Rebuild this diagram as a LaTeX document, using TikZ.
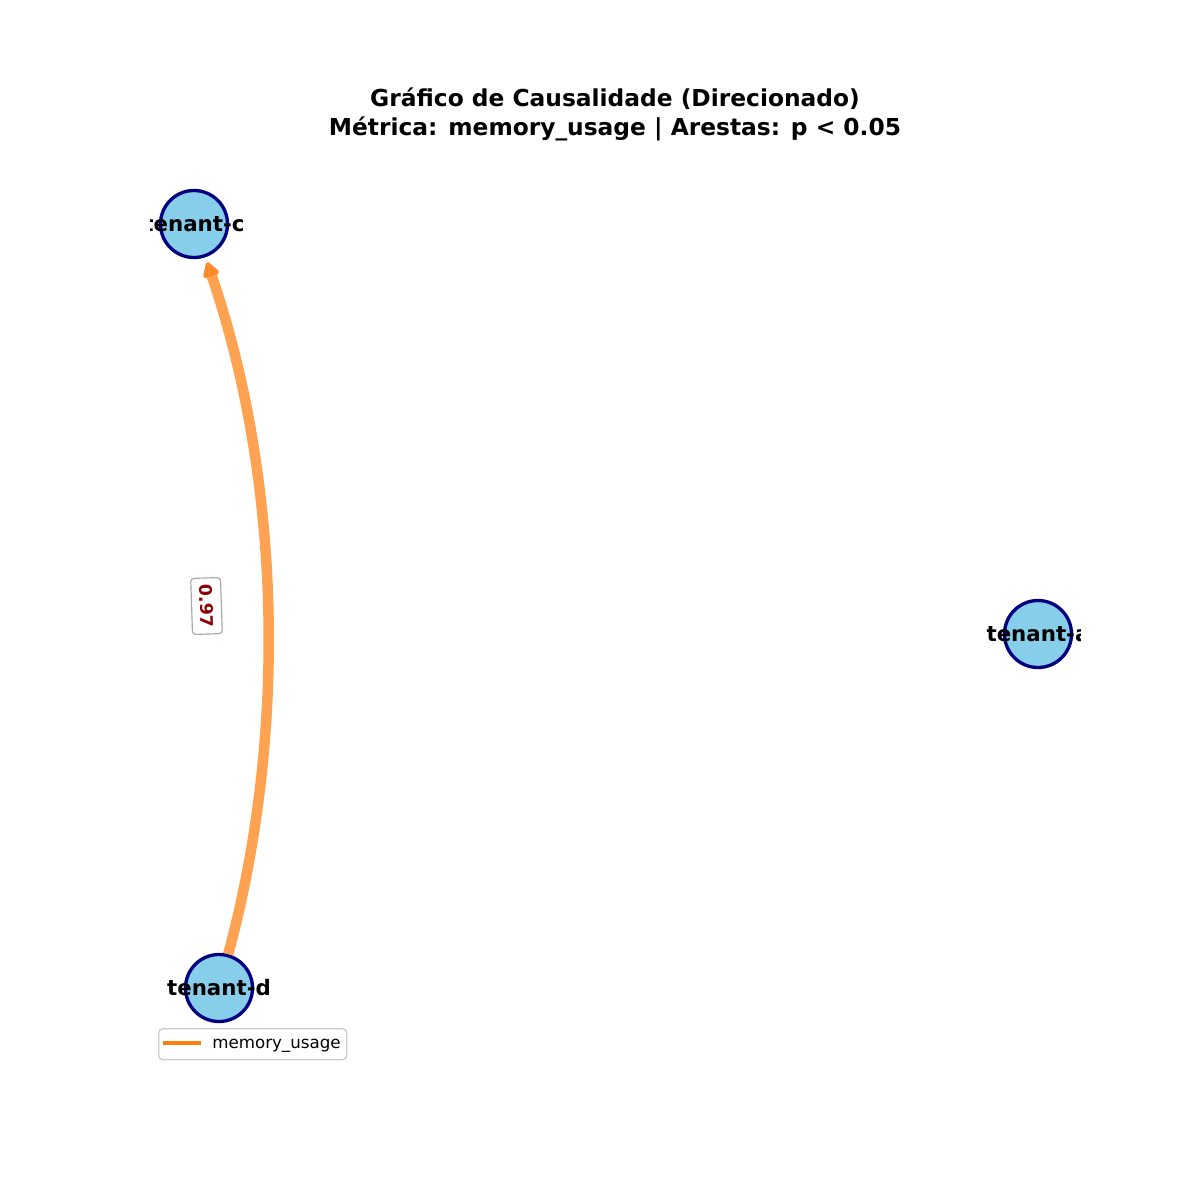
\documentclass[tikz,border=0pt]{standalone}
\usepackage{fontspec}
\setmainfont{DejaVu Sans}
\usetikzlibrary{arrows.meta}
\definecolor{skyblue}{HTML}{87CEEB}
\definecolor{navyc}{HTML}{000080}
\definecolor{edgeorange}{HTML}{FFA352}
\definecolor{tiporange}{HTML}{FF8A2A}
\definecolor{legorange}{HTML}{FF7F0E}
\definecolor{darkredc}{HTML}{8B0000}
\definecolor{framegray}{HTML}{CCCCCC}
\definecolor{lblgray}{HTML}{A8A8A8}
\tikzset{
  tnode/.style={circle, minimum size=67*0.6bp, inner sep=0pt, fill=skyblue, draw=navyc, line width=2bp},
  tlabel/.style={font=\fontsize{12.8bp}{14bp}\selectfont\bfseries, text=black, inner sep=0pt},
  causal/.style={draw=edgeorange, line width=6.3bp,
    -{Triangle[length=10bp,width=11bp,round,color=tiporange]}, shorten >=3.2bp},
  weightlbl/.style={draw=lblgray, line width=0.7bp, fill=white, rounded corners=2bp,
    font=\fontsize{10.4bp}{12bp}\selectfont\bfseries, text=darkredc,
    inner xsep=4bp, inner ysep=5bp},
  titlestyle/.style={font=\fontsize{14bp}{16bp}\selectfont\bfseries, inner sep=0pt, anchor=base},
}
\begin{document}
\begin{tikzpicture}[x=0.6bp, y=-0.6bp]
\useasboundingbox (0,0) rectangle (1200,1200);
\fill[white] (0,0) rectangle (1200,1200);
% title
\node[titlestyle] (t1) at (615,106.5) {Gráfico de Causalidade (Direcionado)};
\node[titlestyle] (t2) at (615,135) {Métrica: memory\_usage | Arestas: p < 0.05};
\begin{scope}
\clip (150,144) rectangle (1080,1068);
% nodes
\node[tnode] (c) at (194,224) {};
\node[tnode] (d) at (219,988) {};
\node[tnode] (a) at (1038,634) {};
% edge
\draw[causal] (d) .. controls (288.6,730.8) and (280.3,476.1) .. (c);
% node labels
\node[tlabel] (lc) at (c.center) {tenant-c};
\node[tlabel] (ld) at (d.center) {tenant-d};
\node[tlabel] (la) at (a.center) {tenant-a};
% edge label
\node[weightlbl, rotate=-88.1] (w) at (206.5,606) {0.97};
% legend
\node[draw=framegray, line width=0.8bp, fill=white, rounded corners=2.5bp,
      minimum width=188*0.6bp, minimum height=31*0.6bp, inner sep=0pt, anchor=north west] (leg) at (158,1028) {};
\coordinate (ls) at (163,1043);
\coordinate (le) at (201,1043);
\draw[legorange, line width=2.6bp] (ls) -- (le);
\node[font=\fontsize{10bp}{12bp}\selectfont, anchor=base west, inner sep=0pt] (lt) at (212,1048) {memory\_usage};
\end{scope}
\end{tikzpicture}
\end{document}
